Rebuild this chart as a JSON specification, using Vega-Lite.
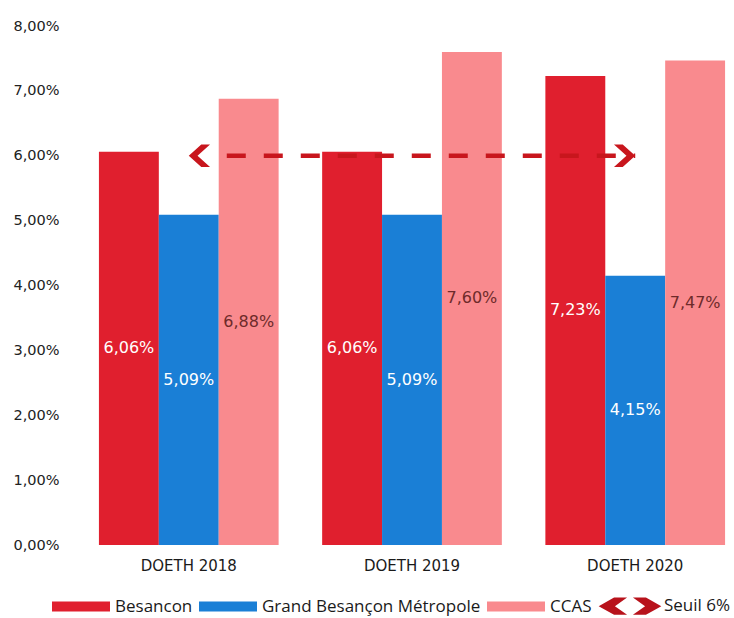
{
  "$schema": "https://vega.github.io/schema/vega-lite/v6.json",
  "autosize": "none",
  "padding": {"left": 90, "top": 26, "right": 0, "bottom": 73},
  "width": 644,
  "height": 519,
  "background": "white",
  "config": {
    "view": {"stroke": null},
    "locale": {"number": {"decimal": ",", "thousands": " ", "grouping": [3], "currency": ["", " €"]}}
  },
  "datasets": {
    "barres": [
      {"groupe": "DOETH 2018", "serie": "Besancon", "taux": 0.0606},
      {"groupe": "DOETH 2018", "serie": "Grand Besançon Métropole", "taux": 0.0509},
      {"groupe": "DOETH 2018", "serie": "CCAS", "taux": 0.0688},
      {"groupe": "DOETH 2019", "serie": "Besancon", "taux": 0.0606},
      {"groupe": "DOETH 2019", "serie": "Grand Besançon Métropole", "taux": 0.0509},
      {"groupe": "DOETH 2019", "serie": "CCAS", "taux": 0.0760},
      {"groupe": "DOETH 2020", "serie": "Besancon", "taux": 0.0723},
      {"groupe": "DOETH 2020", "serie": "Grand Besançon Métropole", "taux": 0.0415},
      {"groupe": "DOETH 2020", "serie": "CCAS", "taux": 0.0747}
    ],
    "seuil": [
      {"groupe": "DOETH 2018", "taux": 0.06, "cote": "gauche"},
      {"groupe": "DOETH 2020", "taux": 0.06, "cote": "droite"}
    ]
  },
  "encoding": {
    "x": {
      "field": "groupe",
      "type": "nominal",
      "sort": ["DOETH 2018", "DOETH 2019", "DOETH 2020"],
      "scale": {"paddingInner": 0.195, "paddingOuter": 0.04},
      "axis": {
        "title": null,
        "labelAngle": 0,
        "domain": false,
        "ticks": false,
        "labelPadding": 13,
        "labelFont": "DejaVu Sans",
        "labelFontSize": 15,
        "labelColor": "#1a1a1a"
      }
    }
  },
  "resolve": {"scale": {"y": "independent"}},
  "layer": [
    {
      "data": {"name": "barres"},
      "mark": {"type": "bar"},
      "encoding": {
        "y": {
          "field": "taux",
          "type": "quantitative",
          "scale": {"domain": [0, 0.08], "nice": false},
          "axis": {
            "title": null,
            "values": [0, 0.01, 0.02, 0.03, 0.04, 0.05, 0.06, 0.07, 0.08],
            "format": ".2%",
            "grid": false,
            "domain": false,
            "ticks": false,
            "labelPadding": 31,
            "labelFont": "DejaVu Sans",
            "labelFontSize": 14.5,
            "labelColor": "#222222"
          }
        },
        "xOffset": {
          "field": "serie",
          "type": "nominal",
          "sort": ["Besancon", "Grand Besançon Métropole", "CCAS"],
          "scale": {"paddingInner": 0, "paddingOuter": 0}
        },
        "color": {
          "field": "serie",
          "type": "nominal",
          "scale": {
            "domain": ["Besancon", "Grand Besançon Métropole", "CCAS", "Seuil 6%"],
            "range": ["#e01f2e", "#1a7fd6", "#f98a8e", "#b8121b"]
          },
          "legend": {
            "title": null,
            "orient": "none",
            "direction": "horizontal",
            "legendX": -38,
            "legendY": 551,
            "columns": 4,
            "columnPadding": 6,
            "symbolType": "M-1,-0.17H1V0.17H-1Z",
            "symbolSize": 3364,
            "symbolStrokeWidth": 0,
            "symbolOpacity": 1,
            "labelOffset": 5,
            "labelFont": "Open Sans",
            "labelFontSize": 17,
            "labelColor": "#1a1a1a",
            "labelLimit": 400,
            "encode": {
              "symbols": {
                "update": {
                  "shape": {"signal": "datum.value === 'Seuil 6%' ? 'M-1.08,0L-0.55,-0.3L-0.1,-0.3L-0.52,0L-0.1,0.3L-0.55,0.3Z M1.08,0L0.55,-0.3L0.1,-0.3L0.52,0L0.1,0.3L0.55,0.3Z' : 'M-1,-0.17H1V0.17H-1Z'"}
                }
              }
            }
          }
        }
      }
    },
    {
      "data": {"name": "barres"},
      "mark": {"type": "text", "font": "DejaVu Sans", "fontSize": 16, "baseline": "middle", "align": "center"},
      "encoding": {
        "y": {
          "field": "taux",
          "type": "quantitative",
          "scale": {"domain": [0, 0.16], "nice": false},
          "axis": null
        },
        "xOffset": {
          "field": "serie",
          "type": "nominal",
          "sort": ["Besancon", "Grand Besançon Métropole", "CCAS"],
          "scale": {"paddingInner": 0, "paddingOuter": 0}
        },
        "text": {"field": "taux", "type": "quantitative", "format": ".2%"},
        "color": {
          "condition": {"test": "datum.serie === 'CCAS'", "value": "#6e2a2a"},
          "value": "#ffffff"
        }
      }
    },
    {
      "data": {"name": "seuil"},
      "mark": {
        "type": "line",
        "color": "#c8161d",
        "strokeWidth": 4.5,
        "strokeDash": [0, 38, 19, 18, 19, 18, 19, 18, 19, 18, 19, 18, 19, 18, 19, 18, 19, 18, 19, 18, 19, 18, 19, 18, 19, 60]
      },
      "encoding": {
        "y": {
          "field": "taux",
          "type": "quantitative",
          "scale": {"domain": [0, 0.08], "nice": false},
          "axis": null
        }
      }
    },
    {
      "data": {"name": "seuil"},
      "mark": {"type": "point", "filled": true, "opacity": 1, "color": "#c8161d", "size": 625, "strokeWidth": 0},
      "encoding": {
        "y": {
          "field": "taux",
          "type": "quantitative",
          "scale": {"domain": [0, 0.08], "nice": false},
          "axis": null
        },
        "shape": {
          "field": "cote",
          "type": "nominal",
          "scale": {
            "domain": ["gauche", "droite"],
            "range": ["M0,0L1,-0.9L1.7,-0.9L0.7,0L1.7,0.9L1,0.9Z", "M0,0L-1,-0.9L-1.7,-0.9L-0.7,0L-1.7,0.9L-1,0.9Z"]
          },
          "legend": null
        }
      }
    }
  ]
}
